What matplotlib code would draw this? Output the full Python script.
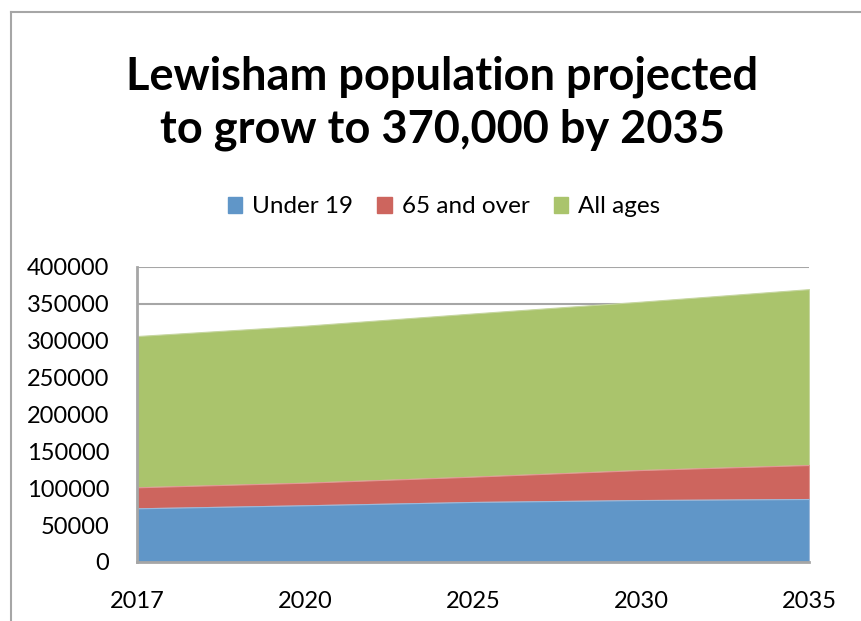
import matplotlib.pyplot as plt
from matplotlib.patches import Patch
from matplotlib.lines import Line2D
import numpy as np

plt.rcParams['font.family'] = ['Lato', 'DejaVu Sans']

# Data
years = ['2017', '2020', '2025', '2030', '2035']
under_19 = [72800, 76900, 81400, 84000, 85400]
over_65 = [28500, 30600, 34300, 40700, 46100]
all_ages = [306400, 320400, 337000, 353000, 370000]

blue = '#6096C8'
red = '#CD655E'
green = '#AAC46C'
grey = '#A6A6A6'

x = np.arange(len(years))
u = np.array(under_19)
o = u + np.array(over_65)
a = np.array(all_ages)

fig = plt.figure(figsize=(8.62, 6.21), dpi=100)
ax = fig.add_axes([137 / 862, 1 - 562 / 621, 672 / 862, 295 / 621])

# Stacked areas
ax.fill_between(x, o, a, color=green, edgecolor='#C6D6A0', lw=0.8, zorder=2)
ax.fill_between(x, u, o, color=red, edgecolor='#E09A94', lw=0.8, zorder=3)
ax.fill_between(x, 0, u, color=blue, edgecolor='#9CB9DA', lw=0.8, zorder=4)

ax.set_xlim(0, len(years) - 1)
ax.set_ylim(0, 400000)
ax.set_yticks(np.arange(0, 400001, 50000))
ax.set_xticks(x)
ax.set_xticklabels(years)
ax.tick_params(axis='both', length=0, labelsize=17, colors='black')
ax.tick_params(axis='y', pad=20)
ax.tick_params(axis='x', pad=21)
ax.grid(axis='y', color=grey, lw=1.5, zorder=1)
ax.set_axisbelow(True)

for side in ['top', 'right']:
    ax.spines[side].set_visible(False)
for side in ['left', 'bottom']:
    ax.spines[side].set_color(grey)
    ax.spines[side].set_linewidth(2)
    ax.spines[side].set_zorder(5)

# Title
fig.text(0.513, 1 - 103 / 621,
         'Lewisham population projected\nto grow to 370,000 by 2035',
         ha='center', va='center', fontsize=32.5, fontweight='bold',
         linespacing=1.3)

# Legend
handles = [Patch(color=blue, label='Under 19'),
           Patch(color=red, label='65 and over'),
           Patch(color=green, label='All ages')]
fig.legend(handles=handles, loc='center', ncol=3,
           bbox_to_anchor=(0.515, 1 - 207 / 621), frameon=False,
           fontsize=17.5, handlelength=0.6, handleheight=0.6,
           handletextpad=0.4, columnspacing=1.0)

# Chart border (left and top edges visible)
fig.add_artist(Line2D([11 / 862, 11 / 862], [0, 1 - 12 / 621],
                      color=grey, lw=1.5))
fig.add_artist(Line2D([11 / 862, 1], [1 - 12 / 621, 1 - 12 / 621],
                      color=grey, lw=1.5))

fig.savefig('out.png', dpi=100)
